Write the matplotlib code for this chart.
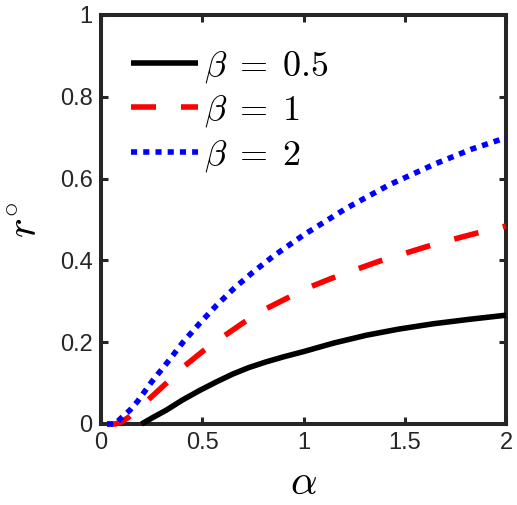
import numpy as np
import matplotlib
matplotlib.use('Agg')
from matplotlib import pyplot as plt

plt.rcParams['mathtext.fontset'] = 'cm'
plt.rcParams['font.family'] = ['Liberation Sans', 'DejaVu Sans']

# values
alpha_b05 = [0.2, 0.26, 0.323, 0.4, 0.487, 0.57, 0.65, 0.73, 0.816, 0.9,
             1.0, 1.15, 1.31, 1.47, 1.64, 1.82, 2.0]
r_b05 = [0.0, 0.017, 0.034, 0.058, 0.082, 0.103, 0.122, 0.138, 0.152, 0.164,
         0.177, 0.198, 0.217, 0.232, 0.245, 0.256, 0.266]

alpha_b1 = [0.03, 0.07, 0.1, 0.135, 0.233, 0.323, 0.413, 0.503, 0.61, 0.71,
            0.816, 0.92, 1.037, 1.143, 1.266, 1.38, 1.5, 1.61, 1.735, 1.85, 2.0]
r_b1 = [0.0, 0.0, 0.005, 0.016, 0.059, 0.1, 0.142, 0.178, 0.216, 0.25,
        0.282, 0.308, 0.336, 0.357, 0.379, 0.399, 0.417, 0.434, 0.451, 0.466, 0.484]

alpha_b2 = [0.03, 0.07, 0.094, 0.143, 0.18, 0.25, 0.33, 0.405, 0.487, 0.57,
            0.66, 0.75, 0.85, 1.0, 1.21, 1.42, 1.65, 1.83, 2.0]
r_b2 = [0.0, 0.0, 0.012, 0.034, 0.055, 0.103, 0.152, 0.2, 0.246, 0.29,
        0.333, 0.371, 0.41, 0.462, 0.527, 0.584, 0.636, 0.672, 0.7]

labels = [r'$\beta\;=\;0.5$', r'$\beta\;=\;1$', r'$\beta\;=\;2$']
x_ticks = [0, 0.5, 1, 1.5, 2]
x_ticklabels = ['0', '0.5', '1', '1.5', '2']
y_ticks = [0, 0.2, 0.4, 0.6, 0.8, 1]
y_ticklabels = ['0', '0.2', '0.4', '0.6', '0.8', '1']

fig = plt.figure(figsize=(5.17, 5.05), dpi=100)
ax = fig.add_axes([101 / 517, 1 - 424 / 505, 405 / 517, 409 / 505])

lw = 4.0
ax.plot(alpha_b05, r_b05, color='k', lw=lw, solid_capstyle='butt',
        label=labels[0], clip_on=False, zorder=3)
ax.plot(alpha_b1, r_b1, color='r', lw=lw, dashes=(4.5, 4.5), dash_capstyle='butt',
        label=labels[1], clip_on=False, zorder=3)
ax.plot(alpha_b2, r_b2, color='b', lw=lw, dashes=(1.1, 1.1), dash_capstyle='butt',
        label=labels[2], clip_on=False, zorder=3)

ax.set_xlim(0, 2)
ax.set_ylim(0, 1)
ax.set_xticks(x_ticks)
ax.set_xticklabels(x_ticklabels)
ax.set_yticks(y_ticks)
ax.set_yticklabels(y_ticklabels)

for s in ax.spines.values():
    s.set_linewidth(2.9)
    s.set_color('#262626')
ax.tick_params(direction='in', length=5, width=2.2, color='#262626',
               labelsize=17, labelcolor='#262626', top=True, right=True, pad=6)

ax.set_xlabel(r'$\alpha$', fontsize=30, labelpad=6)
ax.set_ylabel(r'$r^{\circ}$', fontsize=30, labelpad=10)

ax.legend(loc='upper left', frameon=False, fontsize=26, handlelength=1.85,
          handletextpad=0.15, labelspacing=0.22, borderaxespad=0.0,
          borderpad=0.0, bbox_to_anchor=(0.075, 0.918))

fig.savefig('out.png', dpi=100)
